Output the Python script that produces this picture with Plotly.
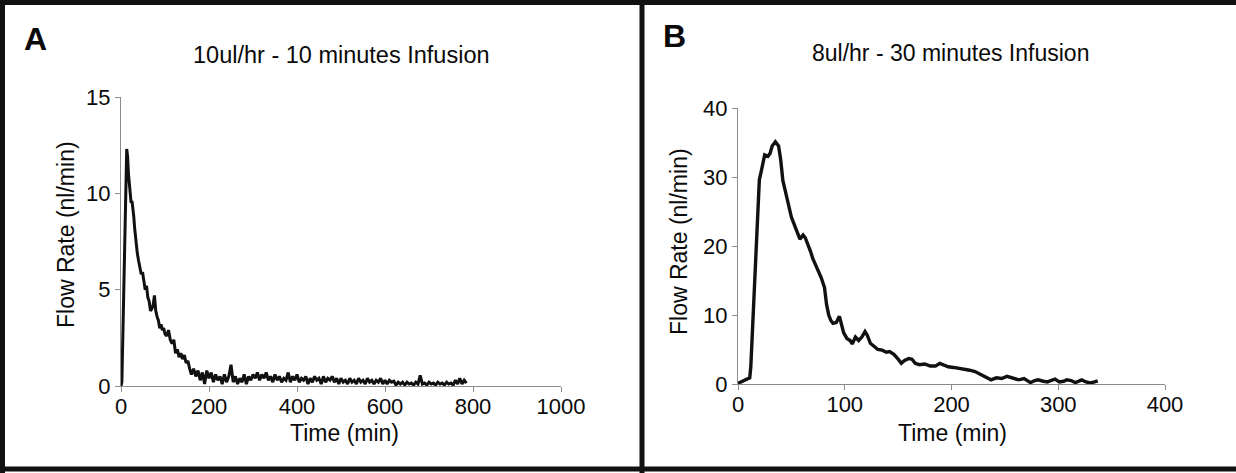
import plotly.graph_objects as go

W, H = 1236, 473

# ---------------- Data ----------------
# Panel A: 10ul/hr - 10 minutes Infusion
time_a_head = [0, 2, 13, 15, 17, 19, 21, 23, 25, 27, 29, 31, 33, 35, 37, 40, 43, 46, 49, 52,
               55, 58, 61, 64, 67, 70, 73, 76, 79, 82, 85, 88, 91, 94, 97, 100, 104, 108,
               112, 116, 120, 124, 128, 132, 136, 140, 144, 148, 152, 156]
flow_a_head = [0.0, 0.2, 12.3, 11.9, 11.0, 10.4, 9.9, 9.5, 9.6, 9.3, 8.8, 8.2, 7.7, 7.3, 6.9,
               6.5, 6.1, 5.8, 5.9, 5.3, 5.0, 5.2, 4.6, 4.4, 3.9, 4.0, 4.2, 4.7, 3.9, 3.6, 3.4,
               3.0, 3.2, 2.9, 3.0, 2.7, 2.6, 2.9, 2.4, 2.2, 2.4, 1.7, 1.9, 1.5, 1.7, 1.4, 1.6,
               1.2, 1.3, 0.9]
time_a_tail = [160, 165, 170, 175, 180, 185, 190, 195, 200, 205, 210, 215, 220, 225, 230, 235,
               240, 245, 250, 255, 260, 265, 270, 275, 280, 285, 290, 295, 300, 305, 310, 315,
               320, 325, 330, 335, 340, 345, 350, 355, 360, 365, 370, 375, 380, 385, 390, 395,
               400, 405, 410, 415, 420, 425, 430, 435, 440, 445, 450, 455, 460, 465, 470, 475,
               480, 485, 490, 495, 500, 505, 510, 515, 520, 525, 530, 535, 540, 545, 550, 555,
               560, 565, 570, 575, 580, 585, 590, 595, 600, 605, 610, 615, 620, 625, 630, 635,
               640, 645, 650, 655, 660, 665, 670, 675, 680, 685, 690, 695, 700, 705, 710, 715,
               720, 725, 730, 735, 740, 745, 750, 755, 760, 765, 770, 775, 780, 785]
flow_a_tail = [0.6, 0.9, 0.5, 0.8, 0.3, 0.7, 0.1, 0.8, 0.4, 0.7, 0.2, 0.6, 0.3, 0.5, 0.1, 0.6,
               0.2, 0.5, 1.1, 0.2, 0.5, 0.1, 0.4, 0.2, 0.6, 0.1, 0.5, 0.3, 0.6, 0.4, 0.7, 0.3,
               0.6, 0.4, 0.7, 0.3, 0.5, 0.2, 0.6, 0.3, 0.5, 0.2, 0.4, 0.3, 0.7, 0.2, 0.5, 0.3,
               0.6, 0.2, 0.4, 0.3, 0.5, 0.1, 0.4, 0.2, 0.5, 0.3, 0.4, 0.1, 0.5, 0.2, 0.4, 0.3,
               0.5, 0.2, 0.4, 0.1, 0.4, 0.2, 0.3, 0.1, 0.4, 0.2, 0.3, 0.1, 0.4, 0.2, 0.3, 0.1,
               0.4, 0.2, 0.3, 0.1, 0.3, 0.2, 0.4, 0.1, 0.3, 0.1, 0.3, 0.2, 0.25, 0.05, 0.2, 0.1,
               0.2, 0.05, 0.2, 0.1, 0.15, 0.05, 0.2, 0.1, 0.55, 0.1, 0.15, 0.05, 0.2, 0.1, 0.15,
               0.05, 0.2, 0.1, 0.15, 0.05, 0.2, 0.1, 0.15, 0.05, 0.3, 0.1, 0.4, 0.1, 0.3, 0.15]

# Panel B: 8ul/hr - 30 minutes Infusion
time_b = [0, 3, 6, 9, 11, 12, 14, 16, 18, 20, 22, 25, 28, 30, 32, 35, 38, 40, 42, 45, 47, 50,
          52, 54, 56, 58, 61, 63, 65, 68, 70, 73, 75, 78, 81, 83, 85, 87, 89, 92, 95, 97, 99,
          102, 105, 107, 110, 113, 116, 119, 121, 124, 128, 131, 135, 139, 142, 146, 150, 153,
          156, 160, 163, 166, 170, 175, 180, 185, 189, 193, 197, 202, 207, 212, 217, 222, 227,
          233, 237, 242, 247, 252, 257, 263, 268, 274, 278, 281, 286, 290, 293, 297, 301, 305,
          308, 312, 316, 319, 322, 326, 330, 334, 337]
flow_b = [0.1, 0.3, 0.6, 0.8, 0.9, 2.5, 8.8, 15.5, 23.0, 29.6, 31.0, 33.2, 33.0, 33.4, 34.5,
          35.1, 34.5, 32.5, 29.5, 27.5, 26.2, 24.2, 23.4, 22.4, 21.8, 21.0, 21.6, 21.2, 20.5,
          19.2, 18.2, 17.2, 16.4, 15.4, 14.0, 11.5, 10.0, 9.2, 8.8, 8.9, 9.8, 8.6, 7.4, 6.6,
          6.3, 5.8, 6.8, 6.3, 6.8, 7.6, 7.1, 5.9, 5.3, 5.0, 4.9, 4.6, 4.7, 4.3, 3.6, 3.0, 3.4,
          3.7, 3.6, 3.0, 2.8, 2.9, 2.6, 2.6, 3.0, 2.8, 2.5, 2.4, 2.3, 2.1, 2.0, 1.8, 1.4, 1.0,
          0.6, 0.9, 0.8, 1.1, 0.9, 0.6, 0.8, 0.2, 0.5, 0.6, 0.4, 0.3, 0.5, 0.7, 0.3, 0.4, 0.6,
          0.5, 0.2, 0.4, 0.6, 0.3, 0.15, 0.3, 0.45]

xticks_a = [0, 200, 400, 600, 800, 1000]
yticks_a = [0, 5, 10, 15]
xticks_b = [0, 100, 200, 300, 400]
yticks_b = [0, 10, 20, 30, 40]

titles = ["10ul/hr - 10 minutes Infusion", "8ul/hr - 30 minutes Infusion"]
panel_labels = ["A", "B"]
x_title = "Time (min)"
y_title = "Flow Rate (nl/min)"

# ---------------- Figure ----------------
def px_x(v):
    return v / W

def px_y(v):
    return (H - v) / H

FONT = "Liberation Sans, Arial, Helvetica, sans-serif"
TXT = "#0a0a0a"
AXC = "#8c8c8c"

fig = go.Figure()
fig.add_trace(go.Scatter(x=time_a_head + time_a_tail, y=flow_a_head + flow_a_tail,
                         mode="lines", line=dict(color="#111111", width=3),
                         xaxis="x", yaxis="y", showlegend=False))
fig.add_trace(go.Scatter(x=time_b, y=flow_b, mode="lines",
                         line=dict(color="#111111", width=3.4),
                         xaxis="x2", yaxis="y2", showlegend=False))

axis_common = dict(showgrid=False, zeroline=False, showline=True, linecolor=AXC,
                   linewidth=1, ticks="outside", ticklen=5, tickwidth=1, tickcolor=AXC,
                   automargin=False,
                   tickfont=dict(family=FONT, size=22, color=TXT), fixedrange=True)

fig.update_layout(
    template="none",
    width=W, height=H, autosize=False,
    margin=dict(l=0, r=0, t=0, b=0, pad=0),
    paper_bgcolor="white", plot_bgcolor="white",
    xaxis=dict(domain=[px_x(121), px_x(561)], range=[0, 1000], tickvals=xticks_a,
               anchor="y", ticklabelstandoff=-4, **axis_common),
    yaxis=dict(domain=[px_y(386), px_y(97)], range=[0, 15], tickvals=yticks_a,
               anchor="x", **axis_common),
    xaxis2=dict(domain=[px_x(738), px_x(1165)], range=[0, 400], tickvals=xticks_b,
                anchor="y2", ticklabelstandoff=-4, **axis_common),
    yaxis2=dict(domain=[px_y(384), px_y(108)], range=[0, 40], tickvals=yticks_b,
                anchor="x2", **axis_common),
)

ann = []
# panel letters
ann.append(dict(text="<b>%s</b>" % panel_labels[0], x=px_x(22), y=px_y(39.5), xanchor="left",
                yanchor="middle", font=dict(family=FONT, size=32, color=TXT)))
ann.append(dict(text="<b>%s</b>" % panel_labels[1], x=px_x(661), y=px_y(36), xanchor="left",
                yanchor="middle", font=dict(family=FONT, size=32, color=TXT)))
# titles
ann.append(dict(text=titles[0], x=px_x(341), y=px_y(55), xanchor="center", yanchor="middle",
                font=dict(family=FONT, size=23.5, color=TXT)))
ann.append(dict(text=titles[1], x=px_x(950), y=px_y(53), xanchor="center", yanchor="middle",
                font=dict(family=FONT, size=23, color=TXT)))
# axis titles
for xc, yc in [(344, 433), (952, 433)]:
    ann.append(dict(text=x_title, x=px_x(xc), y=px_y(yc), xanchor="center", yanchor="middle",
                    font=dict(family=FONT, size=23, color=TXT)))
for xc, yc in [(66, 235), (679, 242)]:
    ann.append(dict(text=y_title, x=px_x(xc), y=px_y(yc), xanchor="center", yanchor="middle",
                    textangle=-90, font=dict(family=FONT, size=23, color=TXT)))
for a in ann:
    a.update(xref="paper", yref="paper", showarrow=False)
fig.update_layout(annotations=ann)

# panel borders
shapes = []
bw = 5
shapes.append(dict(type="line", x0=0, x1=1, y0=px_y(2.5), y1=px_y(2.5)))
shapes.append(dict(type="line", x0=0, x1=1, y0=px_y(469), y1=px_y(469)))
shapes.append(dict(type="line", x0=px_x(2.5), x1=px_x(2.5), y0=0, y1=1))
shapes.append(dict(type="line", x0=px_x(642), x1=px_x(642), y0=0, y1=1))
for s in shapes:
    s.update(xref="paper", yref="paper", line=dict(color="#111111", width=bw), layer="above")
fig.update_layout(shapes=shapes)

css_fix = ("var s=document.createElement('style');"
           "s.textContent='html,body{margin:0 !important;padding:0 !important;"
           "overflow:hidden !important;}';"
           "document.head.appendChild(s);")

fig.write_html("out.html", post_script=css_fix)
